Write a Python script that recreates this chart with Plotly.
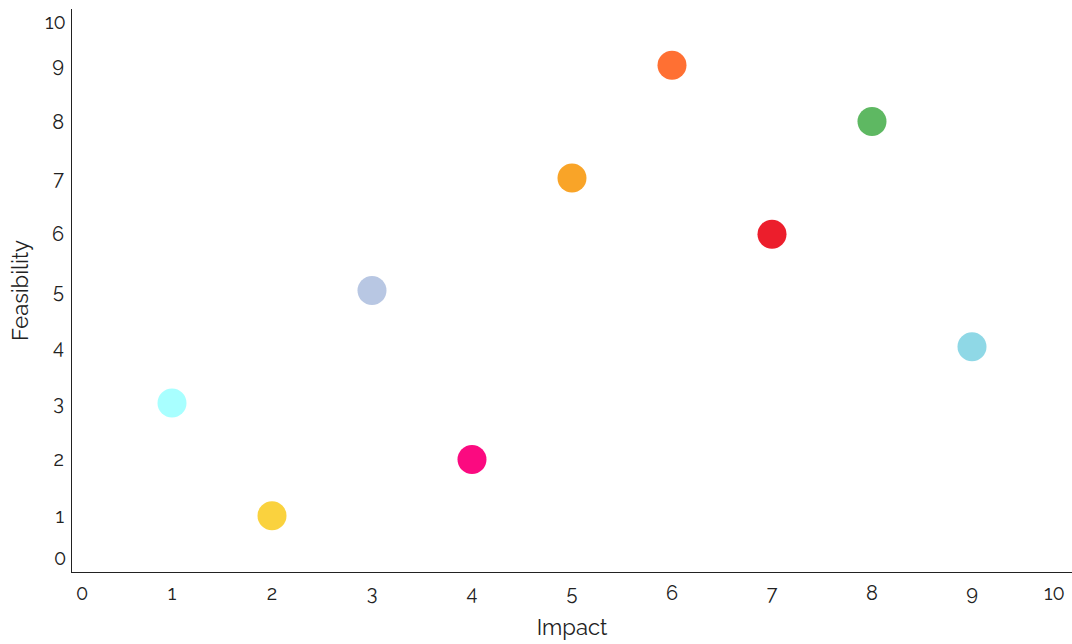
import plotly.graph_objects as go

impact = [1, 2, 3, 4, 5, 6, 7, 8, 9]
feasibility = [3, 1, 5, 2, 7, 9, 6, 8, 4]
colors = ["#A8FFFF", "#FAD23E", "#B8C7E3", "#FB0A80", "#F9A428", "#FF7033",
          "#EC1E2C", "#5EB862", "#8FD8E6"]
tick_vals = list(range(0, 11))
inner_tick_text = [""] + [str(v) for v in range(1, 10)] + [""]
x_end_labels = {0: "0", 10: "10"}
y_end_labels = {0: "0", 10: "10"}

font_family = "Raleway, Lato, 'Open Sans', sans-serif"
text_color = "#222222"

fig = go.Figure(
    go.Scatter(
        x=impact, y=feasibility, mode="markers",
        marker=dict(size=29, color=colors, line=dict(width=0)),
        showlegend=False, hoverinfo="x+y",
    )
)

fig.update_layout(
    width=1072, height=644,
    margin=dict(l=72, r=0, t=9, b=72),
    paper_bgcolor="white", plot_bgcolor="white",
    font=dict(family=font_family, size=20, color=text_color),
)
fig.update_xaxes(
    range=[0, 10], tickvals=tick_vals, ticktext=inner_tick_text,
    showgrid=False, zeroline=False, automargin=False,
    showline=True, linecolor=text_color, linewidth=1, ticks="",
    ticklabelstandoff=3, ticklabeloverflow="allow",
    title=dict(text="Impact", font=dict(size=22), standoff=15),
)
fig.update_yaxes(
    range=[0, 10], tickvals=tick_vals, ticktext=inner_tick_text,
    showgrid=False, zeroline=False, automargin=False,
    showline=True, linecolor=text_color, linewidth=1, ticks="",
    ticklabelstandoff=3, ticklabeloverflow="allow",
    title=dict(text="Feasibility", font=dict(size=22), standoff=17),
)

for val, txt in y_end_labels.items():
    fig.add_annotation(
        x=0, xref="paper", y=val, yref="y", text=txt, showarrow=False,
        xanchor="right", yanchor="middle", xshift=-4,
        yshift=14 if val == 0 else -13,
        font=dict(family=font_family, size=20, color=text_color),
    )

for val, txt in x_end_labels.items():
    fig.add_annotation(
        x=val, xref="x", y=0, yref="paper", text=txt, showarrow=False,
        xanchor="center", yanchor="middle", yshift=-21,
        xshift=10 if val == 0 else -18,
        font=dict(family=font_family, size=20, color=text_color),
    )

fig.write_html(
    "out.html",
    config={"displayModeBar": False},
    post_script="document.body.style.margin='0';document.body.style.overflow='hidden';",
)
